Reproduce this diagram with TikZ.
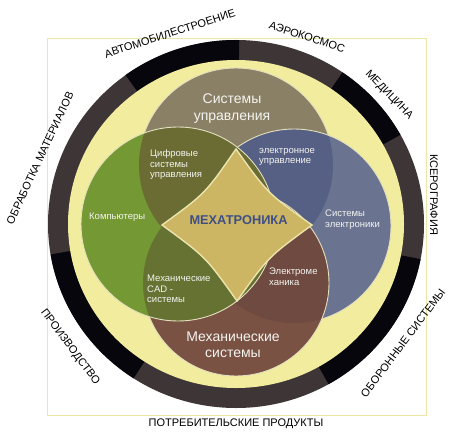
\documentclass[tikz,border=0pt]{standalone}
\usepackage{fontspec}
\setmainfont{Liberation Sans}
\definecolor{ringblack}{HTML}{06060C}
\definecolor{ringtex}{HTML}{3E3537}
\definecolor{yellowbg}{HTML}{F1EC9E}
\definecolor{framecol}{HTML}{ECE7A4}
\definecolor{Tcol}{HTML}{8A8066}
\definecolor{Lcol}{HTML}{749834}
\definecolor{Rcol}{HTML}{6A7490}
\definecolor{Bcol}{HTML}{7A5244}
\definecolor{TLcol}{HTML}{6A6C34}
\definecolor{TRcol}{HTML}{566084}
\definecolor{RBcol}{HTML}{6E4A40}
\definecolor{LBcol}{HTML}{667232}
\definecolor{starfill}{HTML}{CCB664}
\definecolor{starline}{HTML}{ECE4AC}
\definecolor{paleline}{HTML}{E4E0BE}
\definecolor{txtw}{HTML}{F4F4F0}
\definecolor{mechtxt}{HTML}{3F4F86}
\newcommand\ringseg[3]{\fill[#3] (#1:188 and 184) arc[start angle=#1, end angle=#2, x radius=188, y radius=184] -- (#2:168 and 164) arc[start angle=#2, end angle=#1, x radius=168, y radius=164] -- cycle;}
\begin{document}
\begin{tikzpicture}[x=1pt,y=-1pt,
  big/.style={text=txtw, font=\fontsize{14}{17}\selectfont, align=center, inner sep=0},
  small/.style={text=txtw, font=\fontsize{9.5}{10.5}\selectfont, align=left, inner sep=0, anchor=west},
  outer/.style={text=black, font=\fontsize{11}{13}\selectfont, inner sep=0},
  circline/.style={draw=paleline, line width=0.9}]
\useasboundingbox (0,0) rectangle (454,433);
\fill[white] (0,0) rectangle (454,433);
% frame
\draw[framecol, line width=1] (47,39) rectangle (426,415);
% outer ring
\begin{scope}[shift={(236,224)}]
  \fill[ringtex] (0,0) ellipse[x radius=188, y radius=184];
  \ringseg{-189.5}{-237}{ringblack}
  \ringseg{-299.5}{-349}{ringblack}
  \ringseg{-29}{-55.5}{ringblack}
  \ringseg{-89}{-126}{ringblack}
  \fill[yellowbg] (0,0) ellipse[x radius=168, y radius=164];
\end{scope}
% top circle
\fill[Tcol] (236,165) circle[radius=97];
\draw[circline] (236,165) circle[radius=97];
% right circle
\fill[Rcol] (294,226) circle[radius=97];
\begin{scope}
  \clip (294,226) circle[radius=97];
  \fill[TRcol] (236,165) circle[radius=97];
\end{scope}
\draw[circline] (294,226) circle[radius=97];
% bottom circle
\fill[Bcol] (236,283) circle[radius=93];
\begin{scope}
  \clip (236,283) circle[radius=93];
  \fill[RBcol] (294,226) circle[radius=97];
\end{scope}
\draw[circline] (236,283) circle[radius=93];
% left circle
\fill[Lcol] (178,224) circle[radius=97];
\begin{scope}
  \clip (178,224) circle[radius=97];
  \fill[TLcol] (236,165) circle[radius=97];
  \fill[LBcol] (236,283) circle[radius=93];
\end{scope}
\draw[circline] (178,224) circle[radius=97];
% star
\filldraw[fill=starfill, draw=starline, line width=1.4, line join=miter]
  (236,149) .. controls (267.6,193.4) .. (312,225)
  .. controls (268.1,257.1) .. (237,301)
  .. controls (205.9,257.1) .. (162,225)
  .. controls (205.4,193.4) .. (236,149) -- cycle;
% inner texts
\node[big] (su) at (232,108.5) {Системы\\управления};
\node[small] (dsu) at (150,164.8) {Цифровые\\системы\\управления};
\node[small] (eu) at (259,157) {электронное\\управление};
\node[small] (comp) at (89,217.4) {Компьютеры};
\node[inner sep=0, text=mechtxt, font=\bfseries\fontsize{12.8}{14}\selectfont] (mech) at (238.5,220.5) {МЕХАТРОНИКА};
\node[small] (se) at (325,219.6) {Системы\\электроники};
\node[small] (em) at (269,276.6) {Электроме\\ханика};
\node[small] (cad) at (147,289) {Механические\\CAD -\\системы};
\node[big, font=\fontsize{14}{16}\selectfont] (ms) at (233,345) {Механические\\системы};
% outer labels
\node[outer, rotate=18] (auto) at (170,33.5) {АВТОМОБИЛЕСТРОЕНИЕ};
\node[outer, rotate=-18] (aero) at (307,37) {АЭРОКОСМОС};
\node[outer, rotate=-46] (med) at (389,95) {МЕДИЦИНА};
\node[outer, rotate=-90] (xero) at (434,194.5) {КСЕРОГРАФИЯ};
\node[outer, rotate=53] (def) at (403,343) {ОБОРОННЫЕ СИСТЕМЫ};
\node[outer] (cons) at (236,424) {ПОТРЕБИТЕЛЬСКИЕ ПРОДУКТЫ};
\node[outer, rotate=-53] (prod) at (70,347) {ПРОИЗВОДСТВО};
\node[outer, rotate=65] (mat) at (40,158) {ОБРАБОТКА МАТЕРИАЛОВ};
\end{tikzpicture}
\end{document}
